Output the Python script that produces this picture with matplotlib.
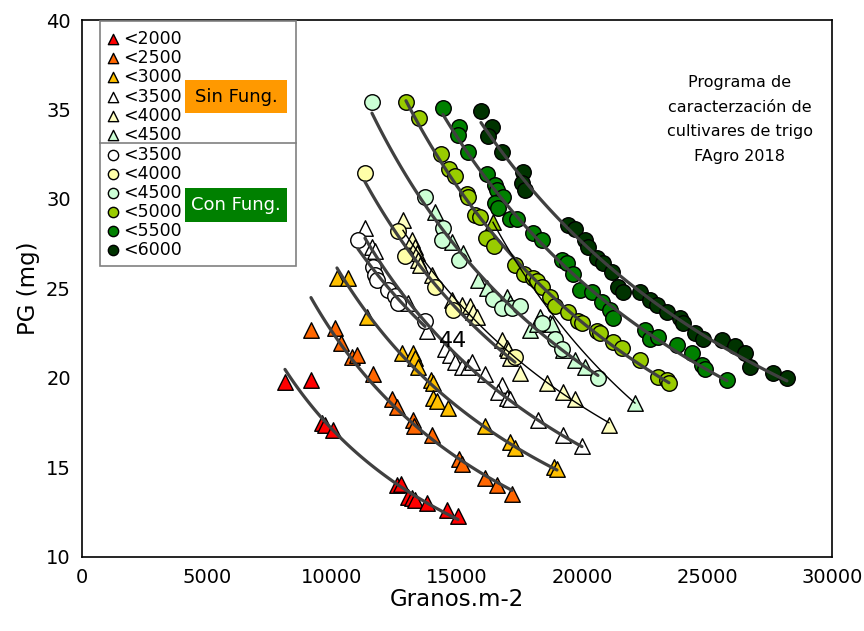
import numpy as np
import matplotlib.pyplot as plt
from matplotlib.patches import Rectangle

plt.rcParams['font.family'] = ['DejaVu Sans']

# Sin Fung. (triangulos)
sf2000_x = [8120, 9160, 9600, 9720, 10040, 12600, 12760, 13040, 13200, 13320, 13800, 14600, 15040]
sf2000_y = [19.8, 19.9, 17.5, 17.4, 17.1, 14.0, 14.1, 13.35, 13.3, 13.2, 13.0, 12.6, 12.3]

sf2500_x = [9160, 10120, 10360, 10800, 11000, 11640, 12400, 12600, 13240, 13280, 14000, 15080, 15200, 16120, 16600, 17200]
sf2500_y = [22.7, 22.8, 21.95, 21.2, 21.3, 20.2, 18.8, 18.4, 17.65, 17.3, 16.8, 15.5, 15.2, 14.4, 14.0, 13.5]

sf3000_x = [10200, 10640, 11400, 12800, 13240, 13320, 13440, 13960, 14040, 14040, 14200, 14640, 16120, 17120, 17320, 18880, 19000]
sf3000_y = [25.6, 25.6, 23.4, 21.4, 21.4, 21.1, 20.6, 19.9, 19.7, 18.9, 18.7, 18.3, 17.3, 16.4, 16.1, 15.0, 14.9]

sf3500_x = [11320, 11600, 11720, 13040, 13800, 14520, 14720, 14920, 15200, 15440, 15600, 16120, 16800, 16640, 17000, 17120, 18240, 19240, 20000]
sf3500_y = [28.4, 27.3, 27.1, 24.2, 22.6, 21.6, 21.3, 20.9, 20.6, 20.6, 20.9, 20.2, 19.6, 19.2, 18.9, 18.8, 17.65, 16.8, 16.2]

sf4000_x = [12840, 13200, 13320, 13400, 13440, 13520, 14000, 14800, 15200, 15520, 15640, 15800, 16800, 17000, 17040, 17120, 17520, 18600, 19240, 19720, 21080]
sf4000_y = [28.8, 27.7, 27.3, 27.0, 26.6, 26.3, 25.75, 24.35, 24.1, 24.0, 23.7, 23.4, 22.1, 21.7, 21.55, 21.1, 20.3, 19.7, 19.2, 18.8, 17.4]

sf4500_x = [14120, 14800, 15240, 15840, 16200, 17000, 17120, 17920, 18200, 18320, 18720, 18800, 19240, 19720, 20120, 22120]
sf4500_y = [29.3, 27.6, 27.0, 25.5, 25.0, 24.5, 24.2, 22.7, 23.0, 23.4, 23.1, 23.0, 21.55, 21.0, 20.6, 18.6]

sf5000_x = [16440]
sf5000_y = [28.7]

# Con Fung. (circulos)
cf3500_x = [11040, 11640, 11720, 11800, 12240, 12520, 12640, 13720]
cf3500_y = [27.7, 26.2, 25.75, 25.5, 24.9, 24.6, 24.2, 23.2]

cf4000_x = [11320, 12640, 12920, 14120, 14840, 17320]
cf4000_y = [31.45, 28.2, 26.8, 25.1, 23.8, 21.2]

cf4500_x = [11600, 13720, 14440, 14400, 15080, 16440, 16800, 17200, 17520, 18400, 18920, 19200, 20640]
cf4500_y = [35.4, 30.1, 28.4, 27.7, 26.6, 24.4, 23.9, 23.9, 24.0, 23.1, 22.2, 21.6, 20.0]

cf5000_x = [12960, 13480, 14360, 14680, 14920, 15400, 15440, 15720, 15920, 16160, 16480, 17320, 17680, 18040, 18200,
            18400, 18720, 18920, 19440, 19840, 20000, 20600, 20720, 21240, 21600, 22320, 23040, 23400, 23480]
cf5000_y = [35.4, 34.5, 32.5, 31.7, 31.3, 30.3, 30.1, 29.1, 29.0, 27.8, 27.4, 26.3, 25.8, 25.6, 25.4,
            25.1, 24.5, 24.0, 23.7, 23.2, 23.1, 22.6, 22.5, 22.0, 21.7, 21.0, 20.05, 19.9, 19.7]

cf5500_x = [14440, 15080, 15040, 15440, 16200, 16520, 16600, 16840, 16520, 16640, 17120, 17400, 18040, 18400, 19200,
            19400, 19640, 19920, 20400, 20800, 21120, 21240, 22520, 22720, 23040, 23800, 24400, 24800, 24920, 25800]
cf5500_y = [35.1, 34.0, 33.6, 32.6, 31.4, 30.8, 30.5, 30.1, 29.8, 29.5, 28.9, 28.9, 28.1, 27.7, 26.6,
            26.4, 25.8, 24.9, 24.8, 24.25, 23.8, 23.35, 22.7, 22.2, 22.3, 21.85, 21.4, 20.7, 20.5, 19.9]

cf6000_x = [15960, 16400, 16240, 16800, 17640, 17600, 17720, 19440, 19720, 20120, 20240, 20600, 20840, 21200, 21440,
            21640, 22320, 22720, 23000, 23400, 23920, 24040, 24520, 24840, 25600, 26120, 26520, 26720, 27640, 28200]
cf6000_y = [34.9, 34.0, 33.5, 32.6, 31.5, 30.9, 30.5, 28.55, 28.3, 27.7, 27.3, 26.7, 26.4, 25.9, 25.1,
            24.8, 24.8, 24.35, 24.1, 23.7, 23.35, 23.1, 22.5, 22.2, 22.1, 21.8, 21.4, 20.6, 20.3, 20.0]

# (etiqueta, x, y, color, tipo de linea)
triangulos = [
    ('<2000', sf2000_x, sf2000_y, '#FF0000', 'thick'),
    ('<2500', sf2500_x, sf2500_y, '#FF6600', 'thick'),
    ('<3000', sf3000_x, sf3000_y, '#FFC000', 'thick'),
    ('<3500', sf3500_x, sf3500_y, '#FFFFFF', 'thick'),
    ('<4000', sf4000_x, sf4000_y, '#FFFFC0', 'thin'),
    ('<4500', sf4500_x, sf4500_y, '#CCFFD5', None),
]
circulos = [
    ('<3500', cf3500_x, cf3500_y, '#FFFFFF', 'thick'),
    ('<4000', cf4000_x, cf4000_y, '#FFFFA8', 'thick'),
    ('<4500', cf4500_x, cf4500_y, '#CCFFD5', 'thick'),
    ('<5000', cf5000_x, cf5000_y, '#99CC00', 'thick'),
    ('<5500', cf5500_x, cf5500_y, '#008000', 'thick'),
    ('<6000', cf6000_x, cf6000_y, '#003300', 'thick'),
]


def power_fit(x, y):
    x = np.asarray(x, float)
    y = np.asarray(y, float)
    b, loga = np.polyfit(np.log(x), np.log(y), 1)
    xs = np.linspace(x.min(), x.max(), 120)
    return xs, np.exp(loga) * xs ** b


fig = plt.figure(figsize=(8.64, 6.31), dpi=100)
ax = fig.add_axes([0.0949, 0.1173, 0.868, 0.851])

for lab, x, y, col, lt in triangulos:
    ax.scatter(x, y, marker='^', s=125, c=col, edgecolors='black', linewidths=1, zorder=3)
ax.scatter(sf5000_x, sf5000_y, marker='^', s=125, c='#99CC00', edgecolors='black', linewidths=1, zorder=3)
for lab, x, y, col, lt in circulos:
    ax.scatter(x, y, marker='o', s=125, c=col, edgecolors='black', linewidths=1, zorder=3)

for lab, x, y, col, lt in triangulos + circulos:
    if lt is None:
        continue
    xs, ys = power_fit(x, y)
    if lt == 'thick':
        ax.plot(xs, ys, color='#404040', lw=2.3, zorder=4, solid_capstyle='round')
    else:
        ax.plot(xs, ys, color='black', lw=1, zorder=4)

# linea fina entre el triangulo <5000 y el ultimo <4500
x1, y1 = sf5000_x[0], sf5000_y[0]
x2, y2 = sf4500_x[-1], sf4500_y[-1]
b = np.log(y2 / y1) / np.log(x2 / x1)
xs = np.linspace(x1, x2, 100)
ax.plot(xs, y1 * (xs / x1) ** b, color='black', lw=1, zorder=4)

ax.text(14850, 22.05, '44', fontsize=16, ha='center', va='center', zorder=5)

ax.text(0.877, 0.815, 'Programa de\ncaracterzación de\ncultivares de trigo\nFAgro 2018',
        transform=ax.transAxes, ha='center', va='center', fontsize=11.5, linespacing=1.8)

ax.set_xlim(0, 30000)
ax.set_ylim(10, 40)
ax.set_xticks(range(0, 30001, 5000))
ax.set_yticks(range(10, 41, 5))
ax.tick_params(labelsize=14, length=0, pad=8)
ax.set_xlabel('Granos.m-2', fontsize=16.5, labelpad=1)
ax.set_ylabel('PG (mg)', fontsize=16.5, labelpad=4)
for sp in ax.spines.values():
    sp.set_linewidth(1.2)


# leyenda manual (coordenadas en pixeles de la figura -> fraccion de ejes)
def fx(px):
    return (px - 82) / 750.0


def fy(py):
    return (557 - py) / 537.0


ax.add_patch(Rectangle((fx(100), fy(266)), fx(296) - fx(100), fy(21) - fy(266), transform=ax.transAxes,
                       facecolor='white', edgecolor='#808080', lw=1.2, zorder=6))
ax.plot([fx(100), fx(296)], [fy(143), fy(143)], transform=ax.transAxes, color='#808080', lw=1.2, zorder=7)

filas = [39, 58, 77, 97, 116, 135, 155, 174, 193, 212, 231, 250]
entradas = [(lab, col, '^') for lab, x, y, col, lt in triangulos] + [(lab, col, 'o') for lab, x, y, col, lt in circulos]
for py, (lab, col, mk) in zip(filas, entradas):
    ax.scatter([fx(113)], [fy(py)], marker=mk, s=55, c=col, edgecolors='black', linewidths=1,
               transform=ax.transAxes, zorder=8)
    ax.text(fx(123), fy(py), lab, transform=ax.transAxes, fontsize=12.5, va='center', ha='left', zorder=8)

ax.add_patch(Rectangle((fx(185), fy(113)), fx(287) - fx(185), fy(80) - fy(113), transform=ax.transAxes,
                       facecolor='#FF9900', edgecolor='none', zorder=8))
ax.text(fx(236), fy(97), 'Sin Fung.', transform=ax.transAxes, fontsize=13, ha='center', va='center',
        color='black', zorder=9)
ax.add_patch(Rectangle((fx(185), fy(222)), fx(287) - fx(185), fy(188) - fy(222), transform=ax.transAxes,
                       facecolor='#008000', edgecolor='none', zorder=8))
ax.text(fx(236), fy(205), 'Con Fung.', transform=ax.transAxes, fontsize=13, ha='center', va='center',
        color='white', zorder=9)

fig.savefig('out.png', dpi=100)
